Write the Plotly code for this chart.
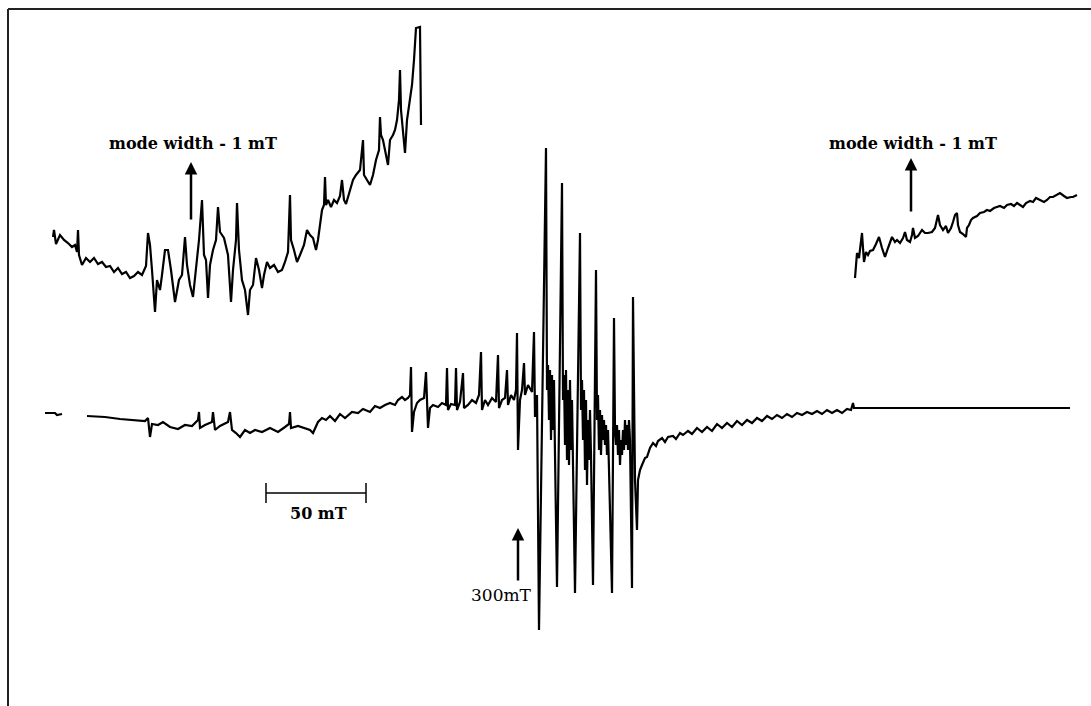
import plotly.graph_objects as go

# ---------------- data ----------------
# Main spectrum: magnetic field (mT) vs signal (a.u.)
main_field = [63.5, 68.5, 69.5, 72, None,
    84.5, 93.5, 101, 108.5, 113.5, 115, 116, 117, 120, 122.5, 126, 130, 133.5, 137, 140, 140.5, 141,
    143.5, 147, 147.5, 148.5, 151, 155, 156, 157, 159, 161, 163.5, 166, 168.5, 172, 176, 180, 183.5,
    185.5, 186, 186.5, 190, 193.5, 196, 197.5, 200, 202, 204, 206, 208.5, 211, 213.5, 217, 220, 222.5,
    226, 228.5, 231, 233.5, 236, 238.5, 240, 242, 243.5, 245, 246, 246.5, 247, 248, 249.5, 251, 253,
    254, 255, 256, 257.5, 260, 262, 264, 264.5, 265, 266.5, 268.5, 269, 269.5, 271, 272.5, 273, 275,
    277, 279, 280.5, 281.5, 282, 283.5, 285, 287, 289, 290, 290.5, 292, 293.5, 294.5, 295, 296.5, 298,
    299, 299.5, 300, 301, 302, 303, 303.5, 305, 307, 308, 308.5, 309.5,
    310.5, 314, 314.5, 315, 315.5, 316, 316.5, 317, 317.5, 318, 318.5, 319.5, 322, 322.5, 323, 323.5,
    324, 324.5, 325, 325.5, 326, 326.5, 327, 327.5, 328.5, 331, 331.5, 332, 332.5, 333, 333.5, 334,
    334.5, 335, 335.5, 336, 336.5, 337.5, 339, 339.5, 340, 340.5, 341, 341.5, 342, 342.5, 343, 343.5,
    344, 344.5, 345, 345.5, 347, 348, 348.5, 349, 349.5, 350, 350.5, 351, 351.5, 352, 352.5, 353,
    353.5, 354, 354.5, 355, 355.5, 356, 357, 357.5, 358, 358.5, 359, 359.5, 360, 361, 362, 363.5,
    364.5, 366, 367.5, 369, 370, 372, 373.5, 375, 377.5, 379, 381, 382.5, 385, 387, 389.5, 392, 394.5,
    397, 399.5, 402, 404.5, 407, 409.5, 412, 414.5, 417, 419.5, 422, 424.5, 427, 429.5, 432, 434.5,
    437, 439.5, 442, 444.5, 447, 449.5, 452, 454.5, 457, 459.5, 462, 464.5, 466.5, 467.5, 468, 476, 576]
main_signal = [2, 2, 0, 1, None,
    -1, -2, -4, -5, -6, -3, -22, -9, -10, -7, -12, -14, -10, -11, -5, 3, -13,
    -10, -7, 3, -15, -11, -7, 3, -15, -18, -22, -15, -18, -15, -17, -13, -17, -12,
    -9, 3, -13, -11, -13, -15, -18, -7, -3, -5, -1, -6, 1, -3, 3, 2, 6,
    3, 9, 7, 10, 12, 10, 15, 18, 15, 17, 20, 48, -17, 3, 12, 15, 17,
    43, -13, 7, 10, 8, 12, 10, 47, 5, 11, 10, 47, 5, 13, 42, 7, 10,
    15, 12, 20, 63, 5, 15, 10, 17, 13, 60, 7, 15, 17, 45, 10, 20, 15,
    25, 82, -35, 15, 25, 52, 20, 30, 23, 83, -2, 20,
    -215, 267, 25, 50, -5, 45, -25, 40, -15, 35, -40, -172, 232, 15, 40, -30,
    45, -45, 25, -50, 35, -35, 15, -55, -178, 182, 5, 35, -25, 25, -55, 15,
    -70, -5, -45, 5, -40, -170, 145, -5, 20, -35, 5, -40, 0, -25, -5, -30,
    -10, -40, -15, -55, -178, 97, -15, -30, -10, -40, -15, -50, -25, -40, -15, -35,
    -5, -30, -10, -35, -5, -25, -173, 118, -25, -65, -90, -115, -65, -55, -50, -43,
    -42, -33, -28, -31, -26, -23, -27, -22, -21, -24, -18, -20, -16, -19, -13, -17, -12,
    -16, -9, -13, -8, -12, -6, -10, -5, -8, -3, -6, -1, -4, 0, -3, 1,
    -2, 2, 0, 3, 1, 4, 1, 5, 2, 5, 2, 6, 5, 12, 7, 7, 7]

# Left inset: expanded field offset (mT) vs signal (a.u.)
left_field = [5.3, 5.4, 5.6, 6.0, 6.4, 6.8, 7.2, 7.5, 7.7, 7.8, 7.9, 8.2, 8.6, 9.0, 9.4, 9.8, 10.2,
    10.6, 11.0, 11.4, 11.8, 12.2, 12.6, 13.0, 13.4, 13.8, 14.2, 14.6, 14.8, 15.0, 15.2, 15.5, 15.7,
    16.0, 16.2, 16.5, 16.8, 17.1, 17.5, 17.9, 18.2, 18.5, 18.7, 19.0, 19.3, 19.6, 19.9, 20.2, 20.4,
    20.6, 20.8, 21.0, 21.3, 21.6, 21.8, 22.0, 22.4, 22.8, 23.1, 23.3, 23.6, 23.7, 23.9, 24.2, 24.5,
    24.8, 25.0, 25.3, 25.6, 25.9, 26.2, 26.4, 26.7, 27.0, 27.4, 27.8, 28.2, 28.5, 28.8, 29.0, 29.1,
    29.4, 29.7, 30.0, 30.4, 30.7, 31.0, 31.3, 31.6, 31.8, 32.0, 32.2, 32.4, 32.5, 32.6, 32.8, 33.1,
    33.4, 33.7, 34.0, 34.2, 34.4, 34.6, 35.0, 35.3, 35.6, 36.0, 36.3, 36.4, 36.7, 37.0, 37.3, 37.6,
    37.9, 38.0, 38.1, 38.3, 38.6, 38.8, 39.0, 39.3, 39.5, 39.7, 39.9, 40.0, 40.1, 40.3, 40.5, 40.7,
    41.0, 41.2, 41.4, 41.6, 42.0, 42.1, 42.1]
left_signal = [178, 185, 171, 180, 175, 172, 168, 170, 163, 185, 160, 150, 157, 153, 157, 151, 153,
    148, 149, 143, 147, 141, 143, 137, 139, 143, 140, 149, 182, 170, 145, 103, 135,
    125, 140, 165, 165, 145, 113, 135, 140, 178, 150, 130, 118, 145, 175, 215, 160,
    155, 117, 150, 165, 175, 208, 183, 177, 160, 113, 145, 175, 212, 165, 135, 125,
    100, 125, 130, 157, 145, 127, 140, 153, 147, 150, 143, 145, 153, 163, 220, 175,
    165, 153, 160, 170, 185, 180, 177, 165, 175, 193, 205, 210, 238, 210, 215, 208,
    215, 212, 219, 235, 215, 211, 225, 235, 240, 245, 275, 240, 235, 230, 240, 255,
    265, 298, 280, 275, 260, 250, 275, 280, 285, 295, 315, 345, 305, 285, 262, 295,
    315, 330, 355, 387, 388, 315, 290]

# Right inset: expanded field offset (mT) vs signal (a.u.)
right_field = [85.5, 85.6, 85.7, 85.9, 86.1, 86.2, 86.3, 86.4, 86.6, 86.8, 87.0, 87.3, 87.6, 87.9,
    88.2, 88.5, 88.8, 89.2, 89.5, 89.7, 90.0, 90.3, 90.5, 90.7, 91.0, 91.2, 91.3, 91.5, 91.8, 92.2,
    92.5, 92.8, 93.2, 93.5, 93.8, 94.0, 94.3, 94.6, 94.8, 95.1, 95.3, 95.5, 95.7, 95.8, 96.0, 96.3,
    96.6, 96.7, 96.9, 97.1, 97.3, 97.7, 98.0, 98.4, 98.7, 99.0, 99.4, 99.7, 100.0, 100.4, 100.7,
    101.1, 101.4, 101.7, 102.0, 102.3, 102.6, 103.0, 103.3, 103.6, 104.0, 104.4, 104.7, 105.0,
    105.3, 105.7, 106.0, 106.4, 106.7, 107.1, 107.3, 107.7]
right_signal = [137, 153, 162, 157, 175, 182, 167, 153, 163, 160, 164, 165, 171, 178,
    167, 158, 167, 178, 173, 175, 172, 177, 183, 175, 173, 180, 187, 177, 179, 185,
    182, 182, 183, 187, 200, 190, 185, 189, 182, 187, 193, 200, 202, 190, 183, 181,
    178, 187, 190, 195, 197, 199, 202, 203, 205, 204, 207, 208, 209, 207, 210,
    211, 209, 212, 210, 208, 212, 214, 213, 217, 215, 213, 215, 218,
    218, 220, 222, 219, 217, 218, 218, 220]

mode_label = "mode width - 1 mT"
left_mode_pos = 19.1      # mT offset on expanded scale
right_mode_pos = 91.1
center_field = 300        # mT
center_label = "300mT"
scale_start = 174         # mT
scale_len = 50            # mT
scale_label = "50 mT"

# ---------------- figure ----------------
line_style = dict(color="black", width=2.2)
fig = go.Figure()
fig.add_trace(go.Scatter(x=main_field, y=main_signal, mode="lines", line=line_style,
                         connectgaps=False, xaxis="x", yaxis="y", showlegend=False))
fig.add_trace(go.Scatter(x=left_field, y=left_signal, mode="lines", line=line_style,
                         xaxis="x2", yaxis="y", showlegend=False))
fig.add_trace(go.Scatter(x=right_field, y=right_signal, mode="lines", line=line_style,
                         xaxis="x2", yaxis="y", showlegend=False))

serif = "DejaVu Serif, serif"
ann = []
for pos in (left_mode_pos, right_mode_pos):
    ann.append(dict(x=pos + 0.2, y=272, xref="x2", yref="y", text="<b>" + mode_label + "</b>",
                    showarrow=False, font=dict(family=serif, size=16, color="black")))
ann.append(dict(x=left_mode_pos, y=253, ax=left_mode_pos, ay=194, xref="x2", yref="y",
                axref="x2", ayref="y", text="", showarrow=True, arrowhead=2, arrowsize=1,
                arrowwidth=2.5, arrowcolor="black"))
ann.append(dict(x=right_mode_pos, y=257, ax=right_mode_pos, ay=202, xref="x2", yref="y",
                axref="x2", ayref="y", text="", showarrow=True, arrowhead=2, arrowsize=1,
                arrowwidth=2.5, arrowcolor="black"))
ann.append(dict(x=center_field, y=-113, ax=center_field, ay=-167, xref="x", yref="y",
                axref="x", ayref="y", text="", showarrow=True, arrowhead=2, arrowsize=1,
                arrowwidth=2.5, arrowcolor="black"))
ann.append(dict(x=center_field - 8.5, y=-180, xref="x", yref="y", text=center_label,
                showarrow=False, font=dict(family=serif, size=17, color="black")))
ann.append(dict(x=scale_start + scale_len / 2 + 1, y=-98, xref="x", yref="y",
                text="<b>" + scale_label + "</b>", showarrow=False,
                font=dict(family=serif, size=16, color="black")))

shapes = [
    dict(type="line", xref="x", yref="y", x0=scale_start, x1=scale_start + scale_len, y0=-78, y1=-78,
         line=dict(color="black", width=1.5)),
    dict(type="line", xref="x", yref="y", x0=scale_start, x1=scale_start, y0=-68, y1=-88,
         line=dict(color="black", width=1.5)),
    dict(type="line", xref="x", yref="y", x0=scale_start + scale_len, x1=scale_start + scale_len,
         y0=-68, y1=-88, line=dict(color="black", width=1.5)),
    dict(type="line", xref="paper", yref="paper", x0=8 / 1091, x1=1, y0=1 - 9 / 706, y1=1 - 9 / 706,
         line=dict(color="#222", width=2)),
    dict(type="line", xref="paper", yref="paper", x0=8 / 1091, x1=8 / 1091, y0=0, y1=1 - 9 / 706,
         line=dict(color="#222", width=2)),
]

fig.update_layout(
    width=1091, height=706, autosize=False,
    margin=dict(l=0, r=0, t=0, b=0),
    paper_bgcolor="white", plot_bgcolor="white",
    xaxis=dict(range=[41, 41 + 1091 / 2], visible=False, domain=[0, 1]),
    xaxis2=dict(range=[0, 109.1], visible=False, overlaying="x", anchor="y"),
    yaxis=dict(range=[-291, 415], visible=False, domain=[0, 1]),
    annotations=ann, shapes=shapes, showlegend=False,
)
fig.write_html("out.html")
